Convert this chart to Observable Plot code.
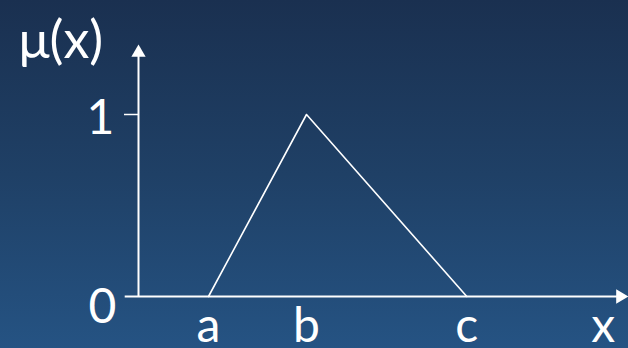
<!DOCTYPE html>
<html>
<head>
<meta charset="utf-8">
<script src="https://cdn.jsdelivr.net/npm/d3@7"></script>
<script src="https://cdn.jsdelivr.net/npm/@observablehq/plot@0.6"></script>
<style>
  html, body { margin: 0; padding: 0; }
  body { width: 628px; height: 348px; overflow: hidden; }
  #chart {
    width: 628px; height: 348px;
    background: linear-gradient(to bottom, #1a3050 0%, #1f4066 50%, #255383 100%);
  }
  #chart svg { display: block; background: transparent; }
</style>
</head>
<body>
<div id="chart"></div>
<script>
// Triangular membership function μ(x) with feet at a, c and peak at b
const breakLabels = ["a", "b", "c"];
const breakValues = [1, 2.4, 4.69];
const membership = [0, 1, 0];
const yTickValues = [0, 1];
const yTickLabels = ["0", "1"];
const xAxisLabel = "x";
const yAxisLabel = "μ(x)";

const points = breakValues.map((x, i) => ({x, y: membership[i]}));
const breaks = breakLabels.map((label, i) => ({label, x: breakValues[i]}));
const ticks = yTickValues.map((y, i) => ({y, label: yTickLabels[i]}));

const white = "#ffffff";
const font = "Lato, 'Open Sans', sans-serif";
const xMax = 7;      // end of the x axis (arrow tip)
const yArrow = 1.34; // centre of the y axis arrowhead

const chart = Plot.plot({
  width: 628,
  height: 348,
  margin: 0,
  style: {background: "transparent", fontFamily: font, overflow: "visible"},
  x: {domain: [0, xMax], range: [138, 628], axis: null},
  y: {domain: [0, 1], range: [296, 114], axis: null},
  marks: [
    // axes
    Plot.ruleX([0], {y1: 0, y2: yArrow, stroke: white, strokeWidth: 2}),
    Plot.ruleY([0], {x1: -0.19, x2: xMax - 0.1, stroke: white, strokeWidth: 2}),
    // arrowheads
    Plot.dot([{x: 0, y: yArrow}], {x: "x", y: "y", symbol: "triangle", r: 5.3, fill: white, stroke: null}),
    Plot.dot([{x: xMax - 0.117, y: 0}], {x: "x", y: "y", symbol: "triangle", rotate: 90, r: 5.3, fill: white, stroke: null}),
    // y tick at 1
    Plot.ruleY(ticks.filter(d => d.y > 0), {y: "y", x1: -0.2, x2: 0, stroke: white, strokeWidth: 1.5}),
    // membership triangle
    Plot.line(points, {x: "x", y: "y", stroke: white, strokeWidth: 1.6}),
    // y tick labels
    Plot.text(ticks.filter(d => d.y > 0), {x: 0, y: "y", text: "label", dx: -38, dy: 19, lineAnchor: "bottom", textAnchor: "middle", fill: white, fontSize: 48, fontFamily: font}),
    Plot.text(ticks.filter(d => d.y === 0), {x: 0, y: "y", text: "label", dx: -36, dy: 26, lineAnchor: "bottom", textAnchor: "middle", fill: white, fontSize: 48, fontFamily: font}),
    // break labels under the x axis
    Plot.text(breaks, {x: "x", y: 0, text: "label", dy: 45, lineAnchor: "bottom", textAnchor: "middle", fill: white, fontSize: 48, fontFamily: font}),
    Plot.text([xAxisLabel], {x: 6.64, y: 0, text: d => d, dy: 45, lineAnchor: "bottom", textAnchor: "middle", fill: white, fontSize: 48, fontFamily: font}),
    // y axis title
    Plot.text([yAxisLabel], {frameAnchor: "top-left", text: d => d, dx: 18, dy: 57, lineAnchor: "bottom", textAnchor: "start", fill: white, fontSize: 52, fontFamily: font})
  ]
});

document.getElementById("chart").appendChild(chart);
</script>
</body>
</html>
